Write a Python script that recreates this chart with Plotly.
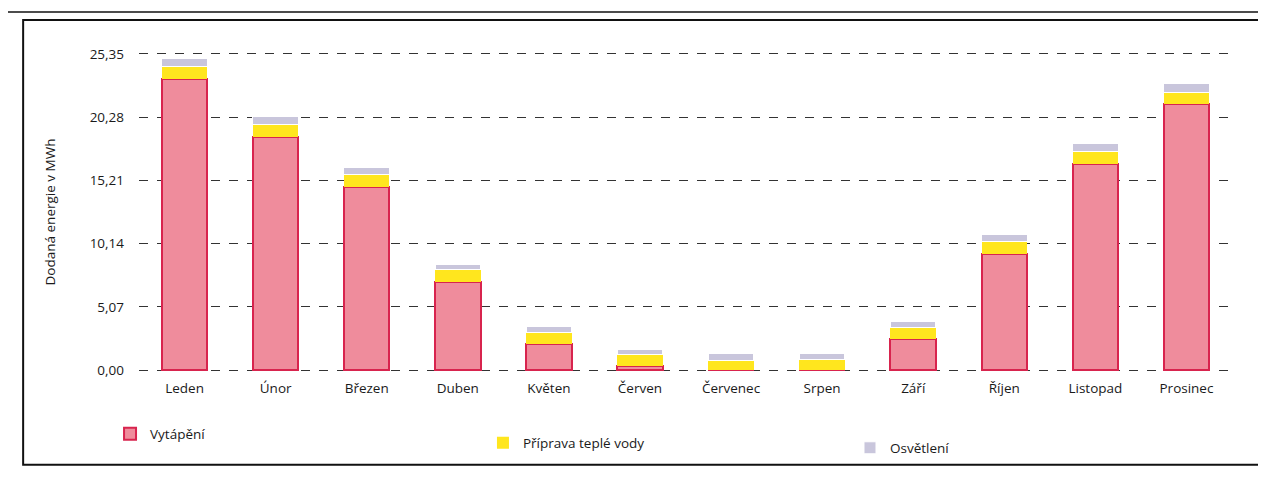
import plotly.graph_objects as go

months = ["Leden", "Únor", "Březen", "Duben", "Květen", "Červen",
          "Červenec", "Srpen", "Září", "Říjen", "Listopad", "Prosinec"]
heating = [23.3, 18.7, 14.7, 7.1, 2.1, 0.3, 0.0, 0.0, 2.5, 9.3, 16.5, 21.3]
hot_water = [1.0, 0.95, 1.0, 0.95, 0.9, 0.95, 0.8, 0.85, 0.95, 1.0, 1.0, 0.95]
lighting = [0.7, 0.7, 0.55, 0.4, 0.5, 0.4, 0.5, 0.5, 0.45, 0.55, 0.7, 0.75]
tick_vals = [0.0, 5.07, 10.14, 15.21, 20.28, 25.35]
tick_text = ["0,00", "5,07", "10,14", "15,21", "20,28", "25,35"]

FONT = "Open Sans"
TXT = "#1a1a1a"
FS = 13.5

fig = go.Figure()
fig.add_trace(go.Bar(x=months, y=heating, name="Vytápění", legend="legend",
                     marker=dict(color="#EF8C9C", line=dict(color="#D8244E", width=2))))
fig.add_trace(go.Bar(x=months, y=hot_water, name="Příprava teplé vody", legend="legend2",
                     marker=dict(color="#FFE61E", line=dict(color="#FFE61E", width=0))))
fig.add_trace(go.Bar(x=months, y=lighting, name="Osvětlení", legend="legend3",
                     marker=dict(color="#C9C6DC", line=dict(color="white", width=1))))

leg = dict(orientation="h", xanchor="left", yanchor="middle",
           bgcolor="rgba(0,0,0,0)", font=dict(size=FS, color=TXT), itemclick=False)

fig.update_layout(
    barmode="stack",
    bargap=0.5,
    width=1266, height=477,
    margin=dict(l=131, r=42, t=44, b=113, autoexpand=False),
    plot_bgcolor="white", paper_bgcolor="white",
    font=dict(family=FONT, size=FS, color=TXT),
    showlegend=True,
    legend=dict(leg, x=-0.0265, y=-0.194),
    legend2=dict(leg, x=0.3147, y=-0.222),
    legend3=dict(leg, x=0.6505, y=-0.2375),
    yaxis=dict(range=[-0.15, 25.5], tickvals=tick_vals, ticktext=tick_text,
               showgrid=True, gridcolor="#333333", griddash="dash", gridwidth=1,
               zeroline=False, showline=False, ticks="", ticklabelstandoff=14,
               tickfont=dict(size=FS),
               title=dict(text="Dodaná energie v MWh", standoff=30, font=dict(size=FS))),
    xaxis=dict(showline=False, ticks="", ticklabelstandoff=6, tickfont=dict(size=FS)),
)

# outer frame of the figure box
fig.add_shape(type="rect", xref="paper", yref="paper",
              x0=-0.106, x1=1.0256, y0=-0.29, y1=1.1,
              line=dict(color="#111111", width=2), fillcolor="rgba(0,0,0,0)", layer="above")
fig.add_shape(type="line", xref="paper", yref="paper",
              x0=-0.12, x1=1.04, y0=1.125, y1=1.125,
              line=dict(color="#111111", width=1.5))

fig.write_html("out.html")
